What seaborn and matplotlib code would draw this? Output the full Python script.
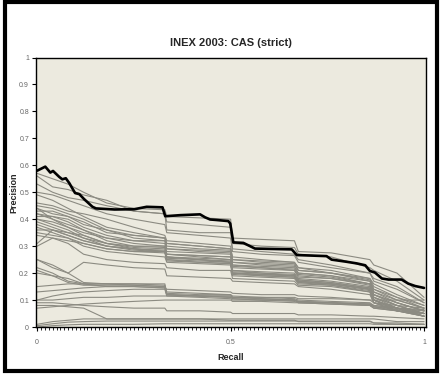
import numpy as np
import pandas as pd
import matplotlib
matplotlib.use("Agg")
import matplotlib.pyplot as plt
import seaborn as sns
from matplotlib.patches import Rectangle
from matplotlib.ticker import MultipleLocator

# ---------------- data ----------------
recall_grid = [0, .04, .08, .12, .18, .25, .33, .335, .42, .5, .505, .58, .665, .675, .76, .86, .87, .93, 1.0]

upper_runs = [
    [.57, .55, .53, .50, .46, .44, .435, .41, .405, .40, .33, .325, .32, .28, .275, .25, .23, .20, .11],
    [.56, .52, .51, .49, .47, .43, .42, .39, .38, .37, .31, .30, .295, .27, .26, .22, .21, .17, .10],
    [.53, .50, .48, .47, .45, .43, .42, .36, .35, .35, .29, .28, .27, .25, .23, .20, .18, .15, .09],
    [.50, .49, .47, .45, .42, .40, .38, .35, .34, .33, .28, .27, .265, .24, .22, .20, .17, .14, .09],
    [.49, .47, .44, .41, .37, .35, .33, .31, .30, .29, .26, .25, .24, .22, .21, .18, .16, .12, .08],
    [.46, .45, .43, .42, .40, .37, .34, .32, .31, .30, .25, .245, .24, .22, .20, .18, .15, .11, .08],
    [.45, .44, .42, .40, .36, .33, .32, .29, .285, .28, .24, .235, .23, .21, .20, .17, .14, .10, .07],
    [.44, .42, .41, .39, .35, .34, .33, .31, .30, .29, .25, .24, .235, .21, .20, .175, .14, .11, .07],
    [.43, .43, .41, .38, .36, .34, .33, .30, .29, .285, .24, .23, .225, .20, .19, .17, .13, .10, .07],
    [.42, .41, .40, .37, .34, .32, .32, .29, .28, .275, .23, .225, .22, .20, .19, .16, .13, .09, .06],
]

middle_runs = [
    [.42, .40, .38, .36, .33, .31, .30, .28, .275, .27, .23, .22, .215, .195, .185, .16, .12, .09, .06],
    [.41, .41, .39, .36, .32, .30, .295, .27, .265, .26, .22, .215, .21, .19, .18, .155, .12, .09, .06],
    [.40, .39, .37, .35, .33, .32, .31, .27, .265, .26, .225, .22, .21, .185, .18, .16, .12, .08, .05],
    [.40, .38, .36, .33, .31, .30, .30, .26, .255, .25, .21, .205, .20, .18, .17, .15, .11, .08, .05],
    [.39, .37, .35, .33, .30, .29, .285, .26, .25, .245, .20, .195, .19, .175, .165, .145, .11, .08, .05],
    [.38, .36, .35, .34, .31, .295, .29, .27, .26, .25, .21, .20, .195, .175, .165, .145, .11, .07, .05],
    [.37, .35, .33, .31, .29, .28, .28, .25, .245, .24, .20, .195, .19, .17, .16, .14, .10, .07, .04],
    [.36, .36, .34, .32, .30, .285, .28, .255, .25, .24, .205, .20, .19, .17, .16, .14, .10, .07, .04],
    [.34, .33, .32, .31, .29, .28, .275, .245, .24, .235, .195, .19, .185, .165, .155, .135, .10, .07, .04],
    [.31, .36, .34, .32, .30, .29, .28, .26, .25, .24, .20, .195, .19, .17, .16, .14, .10, .07, .05],
    [.30, .33, .31, .27, .25, .24, .235, .22, .21, .21, .18, .175, .17, .155, .15, .13, .09, .07, .04],
    [.25, .22, .20, .24, .23, .22, .215, .19, .185, .18, .17, .165, .16, .15, .14, .12, .09, .06, .04],
    [.35, .34, .33, .30, .28, .27, .26, .24, .235, .23, .19, .185, .18, .16, .155, .13, .09, .06, .04],
    [.44, .40, .37, .34, .31, .29, .28, .25, .24, .235, .20, .19, .185, .165, .16, .14, .10, .06, .04],
]

lower_runs = [
    [.22, .20, .17, .16, .16, .16, .155, .13, .125, .12, .115, .11, .105, .10, .095, .09, .08, .07, .06],
    [.21, .19, .165, .155, .155, .155, .15, .12, .115, .11, .105, .10, .10, .095, .09, .085, .075, .065, .05],
    [.25, .23, .20, .165, .16, .16, .16, .125, .12, .12, .11, .105, .10, .095, .09, .085, .075, .06, .05],
    [.15, .155, .16, .16, .16, .155, .15, .12, .115, .115, .11, .105, .10, .095, .09, .085, .08, .07, .06],
    [.13, .135, .14, .145, .15, .15, .145, .12, .115, .11, .105, .10, .10, .09, .09, .08, .07, .06, .05],
    [.10, .115, .125, .13, .135, .14, .14, .115, .11, .105, .10, .10, .095, .09, .085, .08, .07, .06, .05],
    [.10, .10, .105, .11, .11, .115, .115, .115, .115, .115, .11, .11, .11, .105, .105, .10, .10, .10, .10],
    [.09, .09, .085, .08, .075, .07, .07, .06, .06, .055, .05, .05, .05, .045, .045, .04, .04, .035, .03],
    [.07, .075, .08, .085, .09, .095, .10, .10, .10, .10, .095, .095, .09, .09, .085, .08, .075, .07, .065],
    [.08, .08, .075, .07, .03, .03, .03, .03, .03, .025, .025, .025, .025, .02, .02, .02, .015, .015, .01],
    [.01, .02, .025, .03, .03, .03, .03, .03, .03, .03, .03, .03, .03, .03, .03, .03, .03, .02, .02],
    [.005, .012, .018, .02, .022, .022, .022, .022, .022, .022, .022, .022, .022, .022, .022, .022, .015, .01, .01],
    [.0, .005, .008, .01, .01, .01, .012, .012, .012, .012, .012, .012, .012, .012, .012, .012, .01, .01, .01],
    [.20, .19, .18, .16, .15, .15, .145, .14, .135, .13, .125, .12, .12, .115, .11, .10, .09, .08, .07],
]

best_recall = [0.0, 0.021, 0.034, 0.041, 0.057, 0.065, 0.074, 0.083, 0.098, 0.109, 0.121, 0.143, 0.152,
               0.2, 0.251, 0.283, 0.324, 0.331, 0.37, 0.421, 0.434, 0.447, 0.464, 0.494, 0.499, 0.507,
               0.533, 0.563, 0.658, 0.671, 0.748, 0.761, 0.8, 0.826, 0.848, 0.86, 0.873, 0.891, 0.908,
               0.942, 0.959, 0.977, 1.0]
best_precision = [0.58, 0.595, 0.573, 0.579, 0.557, 0.548, 0.552, 0.534, 0.497, 0.493, 0.475, 0.446, 0.44,
                  0.436, 0.437, 0.446, 0.444, 0.411, 0.415, 0.418, 0.407, 0.399, 0.397, 0.393, 0.384, 0.314,
                  0.312, 0.291, 0.288, 0.267, 0.263, 0.25, 0.242, 0.236, 0.229, 0.208, 0.202, 0.18, 0.176,
                  0.176, 0.161, 0.152, 0.145]

y_ticks = [0, 0.1, 0.2, 0.3, 0.4, 0.5, 0.6, 0.7, 0.8, 0.9, 1]
y_tick_labels = ["0", "0.1", "0.2", "0.3", "0.4", "0.5", "0.6", "0.7", "0.8", "0.9", "1"]
x_ticks = [0, 0.5, 1]
x_tick_labels = ["0", "0.5", "1"]

# ---------------- build long table ----------------
rows = []
for gi, group in enumerate([upper_runs, middle_runs, lower_runs]):
    for ri, run in enumerate(group):
        for r, p in zip(recall_grid, run):
            rows.append({"run": f"{gi}-{ri}", "recall": r, "precision": p})
df = pd.DataFrame(rows)
best = pd.DataFrame({"recall": best_recall, "precision": best_precision})

# ---------------- plot ----------------
sns.set_style("white")
plt.rcParams["font.family"] = ["Liberation Sans Narrow", "Liberation Sans", "DejaVu Sans"]

fig = plt.figure(figsize=(4.41, 3.74), dpi=100)
ax = fig.add_axes([36 / 441, 1 - 327 / 374, 390 / 441, 269.5 / 374])
ax.set_facecolor("#eceadf")

sns.lineplot(data=df, x="recall", y="precision", units="run", estimator=None,
             color="#8c8b82", linewidth=0.8, ax=ax, legend=False)
sns.lineplot(data=best, x="recall", y="precision", color="black", linewidth=1.9,
             ax=ax, legend=False)

ax.set_xlim(-0.003, 1.005)
ax.set_ylim(0, 1)
ax.set_yticks(y_ticks)
ax.set_yticklabels(y_tick_labels)
ax.set_xticks(x_ticks)
ax.set_xticklabels(x_tick_labels)
ax.xaxis.set_minor_locator(MultipleLocator(0.01))

for s in ax.spines.values():
    s.set_visible(True)
    s.set_color("black")
    s.set_linewidth(1.0)

ax.tick_params(axis="y", which="major", direction="out", length=3, width=0.8,
               colors="black", labelcolor="#666666", labelsize=5, left=True, pad=2)
ax.tick_params(axis="x", which="major", direction="out", length=3, width=0.8,
               colors="black", labelcolor="#666666", labelsize=5, bottom=True, pad=6)
ax.tick_params(axis="x", which="minor", direction="out", length=2, width=0.6,
               colors="black", bottom=True)

ax.set_xlabel("Recall", fontsize=6.5, fontweight="bold")
ax.set_ylabel("Precision", fontsize=6.5, fontweight="bold")
ax.xaxis.set_label_coords(0.5, -0.096)
ax.yaxis.set_label_coords(-0.046, 0.5)

fig.text(231 / 441, 1 - 43 / 374, "INEX 2003: CAS (strict)", ha="center", va="center",
         fontsize=8, fontweight="bold")

fig.patches.append(Rectangle((5 / 441, 1 - 371 / 374), 432 / 441, 369 / 374,
                             transform=fig.transFigure, fill=False,
                             edgecolor="black", linewidth=3))

fig.savefig("out.png", dpi=100)
